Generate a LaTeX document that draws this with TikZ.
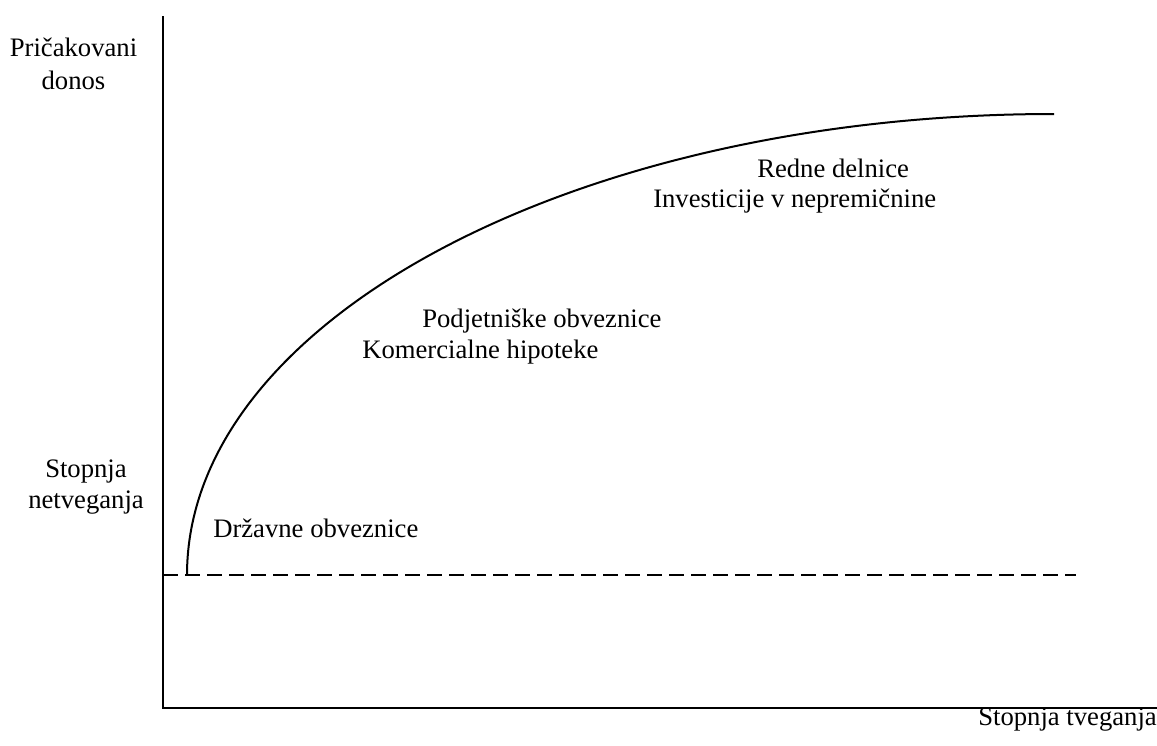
\documentclass[tikz,border=0pt]{standalone}
\usepackage{fontspec}
\setmainfont{Liberation Serif}
\tikzset{
  lbl/.style={inner sep=0pt, font=\fontsize{20}{23}\selectfont},
  axisline/.style={line width=1.5pt},
  riskfree/.style={line width=1.5pt, dash pattern=on 11pt off 5.5pt},
}
\begin{document}
\begin{tikzpicture}[x=0.75pt,y=0.75pt,yscale=-1,xscale=1]
		\useasboundingbox (0,0) rectangle (1157,746);

		% axes
		\coordinate (ytop) at (163,16);
		\coordinate (orig) at (163,708);
		\coordinate (xend) at (1157,708);
		\draw [axisline] (ytop) -- (orig) -- (xend);

		% risk free rate (dashed)
		\coordinate (rfl) at (163,575);
		\coordinate (rfr) at (1076,575);
		\draw [riskfree] (rfl) -- (rfr);

		% Curve: quarter ellipse
		\coordinate (cstart) at (187,575);
		\draw [axisline] (cstart) arc [start angle=180, end angle=270, x radius=867, y radius=461];

		% Text Node
		\node [lbl, anchor=base] (prica) at (73.5,56) {Pričakovani};
		% Text Node
		\node [lbl, anchor=base] (donos) at (73.5,89) {donos};
		% Text Node
		\node [lbl, anchor=base] (stopnja) at (86,477) {Stopnja};
		% Text Node
		\node [lbl, anchor=base] (netveg) at (86,508) {netveganja};
		% Text Node
		\node [lbl, anchor=base west] (drzavne) at (213,537) {Državne obveznice};
		% Text Node
		\node [lbl, anchor=base west] (podjet) at (422,327) {Podjetniške obveznice};
		% Text Node
		\node [lbl, anchor=base west] (komerc) at (362,358) {Komercialne hipoteke};
		% Text Node
		\node [lbl, anchor=base west] (redne) at (757,177) {Redne delnice};
		% Text Node
		\node [lbl, anchor=base west] (invest) at (653,207) {Investicije v nepremičnine};
		% Text Node
		\node [lbl, anchor=base east] (tveg) at (1157,725) {Stopnja tveganja};

\end{tikzpicture}
\end{document}
